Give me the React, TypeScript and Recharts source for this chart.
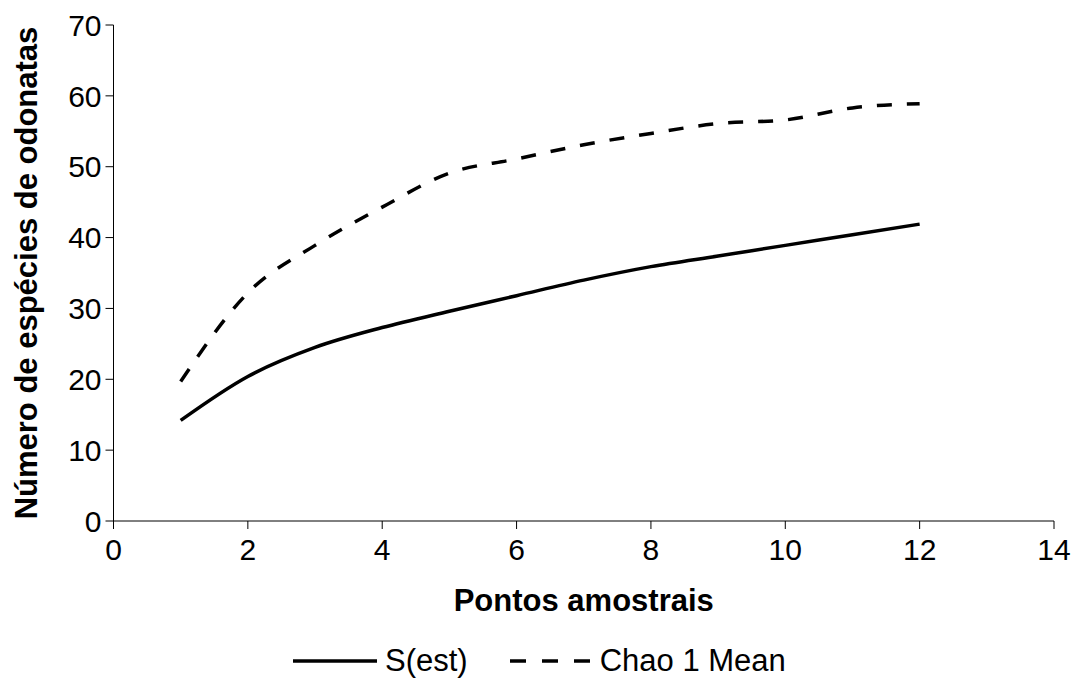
import { LineChart, Line, XAxis, YAxis } from 'recharts'

const pontos = [1, 2, 3, 4, 5, 6, 7, 8, 9, 10, 11, 12]
const sEst = [14.2, 20.4, 24.5, 27.3, 29.6, 31.8, 34.0, 35.9, 37.4, 38.9, 40.4, 41.9]
const chao1 = [19.7, 32.2, 38.9, 44.3, 49.1, 51.1, 53.1, 54.7, 56.1, 56.6, 58.3, 58.9]
const xTicks = [0, 2, 4, 6, 8, 10, 12, 14]
const yTicks = [0, 10, 20, 30, 40, 50, 60, 70]

const data = pontos.map((p, i) => ({ p, sEst: sEst[i], chao1: chao1[i] }))

const FONT = '"Liberation Sans", Arial, sans-serif'
const tickStyle = { fontSize: 30, fill: '#000', fontFamily: FONT }

const YTitle = ({ viewBox }: any) => {
  const cy = viewBox.y + viewBox.height / 2
  const x = 37
  return (
    <text x={x} y={cy} transform={`rotate(-90, ${x}, ${cy})`} textAnchor="middle"
      fontFamily={FONT} fontWeight="bold" fontSize={31} fill="#000">
      Número de espécies de odonatas
    </text>
  )
}

export default function App() {
  return (
    <div style={{ position: 'absolute', left: 0, top: 0, width: 1076, height: 699, background: '#fff' }}>
      <LineChart width={1076} height={699} data={data}
        margin={{ top: 25, right: 22, left: 13.5, bottom: 118 }}>
        <XAxis dataKey="p" type="number" domain={[0, 14]} ticks={xTicks}
          stroke="#000" tickSize={8} tickMargin={10} tick={tickStyle} height={60}
          label={{ value: 'Pontos amostrais', position: 'bottom', offset: 8,
            style: { fontFamily: FONT, fontWeight: 'bold', fontSize: 31, fill: '#000' } }} />
        <YAxis type="number" domain={[0, 70]} ticks={yTicks} width={100}
          stroke="#000" tickSize={8} tickMargin={4} tick={tickStyle}
          label={<YTitle />} />
        <Line dataKey="sEst" type="monotone" stroke="#000" strokeWidth={3.5}
          dot={false} isAnimationActive={false} />
        <Line dataKey="chao1" type="monotone" stroke="#000" strokeWidth={3.5}
          strokeDasharray="15 15" dot={false} isAnimationActive={false} />
      </LineChart>
      <div style={{ position: 'absolute', top: 643, left: 293, height: 36, display: 'flex',
        alignItems: 'center', fontFamily: FONT, fontSize: 31, lineHeight: '36px' }}>
        <svg width={84} height={10}><line x1={0} y1={5} x2={84} y2={5} stroke="#000" strokeWidth={3.5} /></svg>
        <span style={{ marginLeft: 8, marginRight: 42 }}>S(est)</span>
        <svg width={80} height={10}><line x1={0} y1={5} x2={80} y2={5} stroke="#000" strokeWidth={3.5} strokeDasharray="16 16" /></svg>
        <span style={{ marginLeft: 10 }}>Chao 1 Mean</span>
      </div>
    </div>
  )
}
